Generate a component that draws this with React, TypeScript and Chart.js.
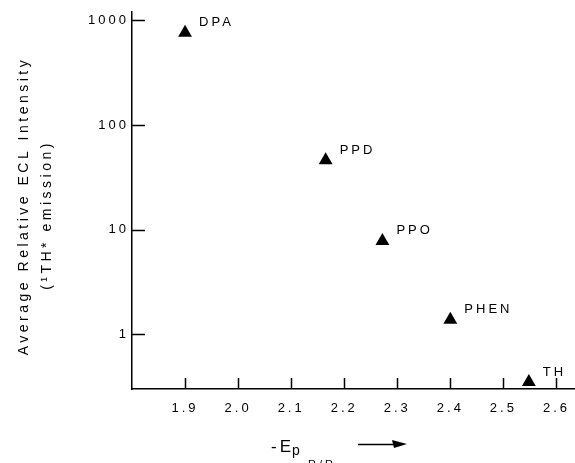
import React, { useEffect, useRef } from "react";
import { Chart, registerables } from "chart.js";

Chart.register(...registerables);

const compounds = ["DPA", "PPD", "PPO", "PHEN", "TH"];
const potentials = [1.9, 2.165, 2.272, 2.4, 2.548];
const intensities = [760, 46, 7.8, 1.38, 0.35];
const xTicks = [1.9, 2.0, 2.1, 2.2, 2.3, 2.4, 2.5, 2.6];
const yTicks = [1, 10, 100, 1000];
const yTitle1 = "Average Relative ECL Intensity";
const yTitle2 = "(¹TH* emission)";

const FONT = "'Liberation Sans', Arial, Helvetica, sans-serif";

const spacingPlugin = {
  id: "spacing",
  beforeLayout(chart: any) {
    chart.ctx.letterSpacing = "3px";
  },
  beforeDraw(chart: any) {
    chart.ctx.letterSpacing = "3px";
  },
};

const decorPlugin = {
  id: "decor",
  afterDraw(chart: any) {
    const ctx = chart.ctx as CanvasRenderingContext2D;
    const xs = chart.scales.x;
    const ys = chart.scales.y;
    const area = chart.chartArea;
    ctx.save();
    ctx.strokeStyle = "#000";
    ctx.fillStyle = "#000";
    ctx.lineWidth = 1.5;
    // inward ticks
    ctx.beginPath();
    xTicks.forEach((v) => {
      const px = Math.round(xs.getPixelForValue(v)) + 0.5;
      ctx.moveTo(px, area.bottom);
      ctx.lineTo(px, area.bottom - 11);
    });
    yTicks.forEach((v) => {
      const py = Math.round(ys.getPixelForValue(v)) + 0.5;
      ctx.moveTo(area.left, py);
      ctx.lineTo(area.left + 13, py);
    });
    ctx.stroke();

    // point labels
    const meta = chart.getDatasetMeta(0);
    (ctx as any).letterSpacing = "3px";
    ctx.font = `13px ${FONT}`;
    ctx.textBaseline = "middle";
    ctx.textAlign = "left";
    meta.data.forEach((el: any, i: number) => {
      ctx.fillText(compounds[i], el.x + 14, el.y - 10);
    });

    // y title
    ctx.save();
    ctx.translate(24, 206);
    ctx.rotate(-Math.PI / 2);
    ctx.textAlign = "center";
    ctx.font = `14px ${FONT}`;
    (ctx as any).letterSpacing = "3.5px";
    ctx.fillText(yTitle1, 0, 0);
    ctx.restore();
    ctx.save();
    ctx.translate(47, 215);
    ctx.rotate(-Math.PI / 2);
    ctx.textAlign = "center";
    ctx.font = `14px ${FONT}`;
    (ctx as any).letterSpacing = "3.5px";
    ctx.fillText(yTitle2, 0, 0);
    ctx.restore();

    // x title
    ctx.textBaseline = "alphabetic";
    ctx.textAlign = "left";
    (ctx as any).letterSpacing = "3px";
    ctx.font = `17px ${FONT}`;
    ctx.fillText("-E", 271, 452);
    ctx.font = `14px ${FONT}`;
    ctx.fillText("p", 292, 455);
    ctx.font = `11px ${FONT}`;
    ctx.fillText("R/R-", 308, 468);
    // arrow
    ctx.beginPath();
    ctx.moveTo(358, 444.5);
    ctx.lineTo(396, 444.5);
    ctx.stroke();
    ctx.beginPath();
    ctx.moveTo(407, 444);
    ctx.lineTo(392, 440);
    ctx.lineTo(394, 448);
    ctx.closePath();
    ctx.fill();
    ctx.restore();
  },
};

export default function App() {
  const ref = useRef<HTMLCanvasElement | null>(null);
  useEffect(() => {
    document.body.style.margin = "0";
    if (!ref.current) return;
    const chart = new Chart(ref.current, {
      type: "scatter",
      data: {
        datasets: [
          {
            data: potentials.map((x, i) => ({ x, y: intensities[i] })),
            pointStyle: "triangle",
            pointRadius: 8,
            pointHoverRadius: 8,
            backgroundColor: "#000",
            borderColor: "#000",
            borderWidth: 0,
            clip: false,
          },
        ],
      },
      options: {
        animation: false,
        responsive: false,
        events: [],
        layout: { autoPadding: false, padding: { top: 12, right: 0, left: 0, bottom: 0 } },
        plugins: {
          legend: { display: false },
          tooltip: { enabled: false },
        },
        scales: {
          x: {
            type: "linear",
            min: 1.8,
            max: 2.635,
            grid: { display: false, drawTicks: false },
            border: { display: true, color: "#000", width: 1.5 },
            afterBuildTicks: (s: any) => {
              s.ticks = xTicks.map((v) => ({ value: v }));
            },
            afterFit: (s: any) => {
              s.height = 74;
              s.paddingLeft = 0;
              s.paddingRight = 0;
            },
            ticks: {
              autoSkip: false,
              maxRotation: 0,
              color: "#000",
              padding: 12,
              font: { family: FONT, size: 13 },
              callback: (v: any) => Number(v).toFixed(1),
            },
          },
          y: {
            type: "logarithmic",
            min: 0.303,
            max: 1200,
            grid: { display: false, drawTicks: false },
            border: { display: true, color: "#000", width: 1.5 },
            afterBuildTicks: (s: any) => {
              s.ticks = yTicks.map((v) => ({ value: v }));
            },
            afterFit: (s: any) => {
              s.width = 132;
              s.paddingTop = 0;
              s.paddingBottom = 0;
            },
            ticks: {
              autoSkip: false,
              color: "#000",
              padding: 3,
              font: { family: FONT, size: 13 },
              callback: (v: any) => String(v),
            },
          },
        },
      },
      plugins: [spacingPlugin, decorPlugin],
    } as any);
    return () => chart.destroy();
  }, []);
  return (
    <div style={{ width: 575, height: 463, background: "#fff" }}>
      <canvas ref={ref} width={575} height={463} style={{ display: "block" }} />
    </div>
  );
}
